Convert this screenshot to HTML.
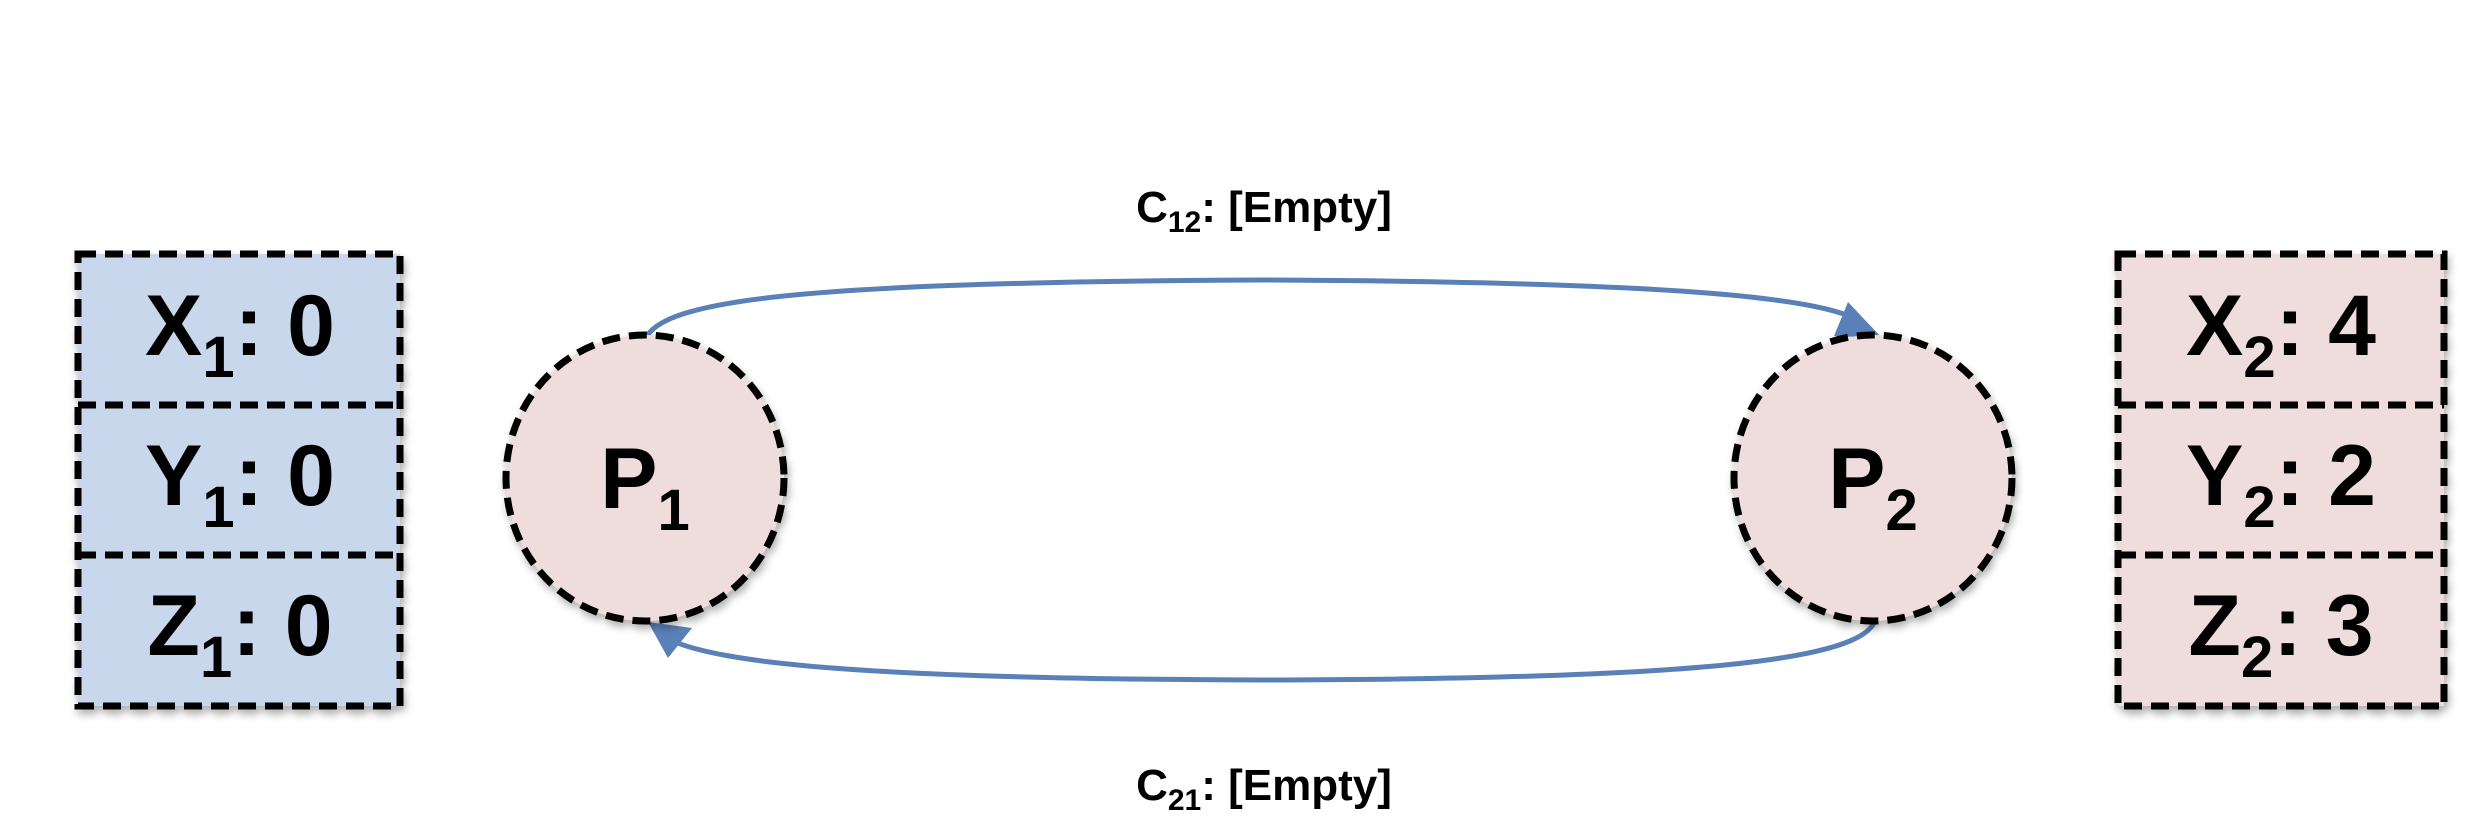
<!DOCTYPE html>
<html><head><meta charset="utf-8"><style>
html,body{margin:0;padding:0;background:#fff;}
svg{display:block;}
text{font-family:"Liberation Sans",sans-serif;font-weight:bold;fill:#000;}
</style></head><body>
<svg width="2477" height="830" viewBox="0 0 2477 830">
<defs>
<filter id="sh" x="-10%" y="-10%" width="130%" height="130%"><feDropShadow dx="2" dy="5" stdDeviation="4" flood-color="#000" flood-opacity="0.3"/></filter>
</defs>
<!-- channels -->
<path d="M645,340 C660,300 800,282 1264,280 C1700,282 1820,300 1858,320" fill="none" stroke="#5a80b8" stroke-width="5"/>
<polygon points="1848,302 1882,338 1834,336" fill="#5a80b8"/>
<path d="M1875,621 C1860,660 1700,679 1264,680 C850,679 720,662 670,640" fill="none" stroke="#5a80b8" stroke-width="5"/>
<polygon points="648,622 692,628 668,658" fill="#5a80b8"/>
<text x="1264" y="222" font-size="44" text-anchor="middle">C<tspan font-size="30" dy="10">12</tspan><tspan dy="-10">: [Empty]</tspan></text>
<text x="1264" y="800" font-size="44" text-anchor="middle">C<tspan font-size="30" dy="10">21</tspan><tspan dy="-10">: [Empty]</tspan></text>
<!-- left box -->
<g filter="url(#sh)">
<rect x="78" y="254" width="322" height="452" fill="#c9d7ed" stroke="#000" stroke-width="7" stroke-dasharray="18,9"/>
<line x1="78" y1="405" x2="400" y2="405" stroke="#000" stroke-width="7" stroke-dasharray="18,9"/>
<line x1="78" y1="555" x2="400" y2="555" stroke="#000" stroke-width="7" stroke-dasharray="18,9"/>
</g>
<text x="240" y="355" font-size="86" text-anchor="middle">X<tspan font-size="58" dy="22">1</tspan><tspan dy="-22">: 0</tspan></text>
<text x="240" y="505" font-size="86" text-anchor="middle">Y<tspan font-size="58" dy="22">1</tspan><tspan dy="-22">: 0</tspan></text>
<text x="240" y="655" font-size="86" text-anchor="middle">Z<tspan font-size="58" dy="22">1</tspan><tspan dy="-22">: 0</tspan></text>
<!-- right box -->
<g filter="url(#sh)">
<rect x="2118" y="254" width="326" height="452" fill="#eedddc" stroke="#000" stroke-width="7" stroke-dasharray="18,9"/>
<line x1="2118" y1="405" x2="2444" y2="405" stroke="#000" stroke-width="7" stroke-dasharray="18,9"/>
<line x1="2118" y1="555" x2="2444" y2="555" stroke="#000" stroke-width="7" stroke-dasharray="18,9"/>
</g>
<text x="2281" y="355" font-size="86" text-anchor="middle">X<tspan font-size="58" dy="22">2</tspan><tspan dy="-22">: 4</tspan></text>
<text x="2281" y="505" font-size="86" text-anchor="middle">Y<tspan font-size="58" dy="22">2</tspan><tspan dy="-22">: 2</tspan></text>
<text x="2281" y="655" font-size="86" text-anchor="middle">Z<tspan font-size="58" dy="22">2</tspan><tspan dy="-22">: 3</tspan></text>
<!-- processes -->
<ellipse cx="645" cy="478" rx="139" ry="143" fill="#eedddc" stroke="#000" stroke-width="7" stroke-dasharray="18,9" filter="url(#sh)"/>
<text x="645" y="508" font-size="86" text-anchor="middle">P<tspan font-size="58" dy="22">1</tspan></text>
<ellipse cx="1873" cy="478" rx="139" ry="143" fill="#eedddc" stroke="#000" stroke-width="7" stroke-dasharray="18,9" filter="url(#sh)"/>
<text x="1873" y="508" font-size="86" text-anchor="middle">P<tspan font-size="58" dy="22">2</tspan></text>
</svg>
</body></html>
